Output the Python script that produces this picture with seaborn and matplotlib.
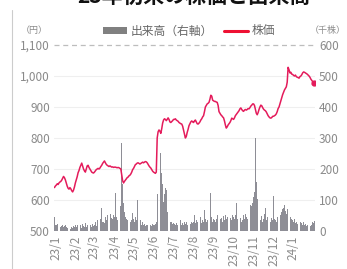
import pandas as pd
import numpy as np
import matplotlib
matplotlib.use("Agg")
import matplotlib.pyplot as plt
import seaborn as sns
from matplotlib.lines import Line2D
from matplotlib.patches import Patch

# daily close (yen), Dec 29 2022 .. Feb 2 2024, one row per month
price = [
    640, 645,
    648, 652, 650, 655, 658, 660, 664, 670, 676, 672, 665, 655, 645, 638, 635, 640, 636, 630, 626, 632, 642, 655,
    665, 675, 688, 695, 705, 712, 719, 710, 700, 694, 690, 700, 710, 712, 705, 700, 695, 690, 688, 687,
    690, 694, 698, 700, 702, 700, 703, 708, 712, 718, 722, 726, 720, 715, 712, 710, 708, 710, 708, 706, 707, 705, 706,
    706, 705, 704, 705, 704, 702, 700, 682, 662, 655, 660, 664, 668, 672, 674, 678, 680, 684, 690, 698,
    702, 708, 714, 716, 719, 720, 718, 716, 718, 720, 722, 720, 722, 724, 723, 720, 715, 710, 706, 703, 698, 693, 690,
    688, 686, 690, 800, 820, 826, 822, 815, 830, 848, 858, 862, 860, 856, 860, 865, 860, 852, 850, 853, 856, 860,
    860, 862, 858, 856, 854, 850, 848, 846, 845, 838, 825, 812, 800, 805, 818, 828, 840, 846, 852, 855, 852,
    850, 855, 858, 852, 846, 845, 848, 852, 858, 862, 868, 872, 885, 900, 905, 910, 912, 915, 925, 938, 935, 922, 920,
    918, 918, 916, 915, 905, 885, 880, 875, 872, 868, 865, 855, 842, 832, 836, 842, 846, 850, 856, 864, 862,
    860, 865, 872, 876, 880, 884, 888, 894, 897, 892, 888, 886, 890, 892, 890, 892, 895, 894, 898, 903, 906, 910,
    910, 905, 892, 880, 875, 882, 892, 900, 906, 904, 898, 893, 890, 888, 884, 878, 872, 868, 865, 864, 866, 870,
    870, 872, 874, 878, 885, 895, 900, 910, 920, 930, 940, 948, 955, 960, 965, 980, 1028, 1020, 1010, 1012, 1006,
    1005, 1002, 1000, 1003, 998, 996, 995, 993, 998, 1000, 1004, 1010, 1013, 1012, 1010, 1008, 1006, 1003, 1000, 996, 990, 986, 982,
    978, 977,
]

# daily volume (thousand shares)
volume = [
    45, 20,
    18, 22, 15, 20, 18, 14, 16, 20, 12, 15, 18, 14, 10, 12, 15, 10, 8, 12, 10, 15, 12, 18,
    14, 20, 12, 28, 15, 18, 10, 22, 16, 14, 25, 12, 18, 20, 15, 30, 18, 14, 22, 16,
    20, 28, 15, 35, 22, 18, 25, 40, 74, 28, 30, 25, 45, 35, 50, 40, 48, 30, 55, 42, 38, 50, 45,
    122, 45, 35, 60, 40, 30, 80, 284, 150, 90, 60, 45, 40, 35, 50, 30, 40, 28, 35, 58,
    40, 30, 45, 35, 100, 45, 30, 25, 35, 20, 28, 18, 22, 15, 20, 18, 15, 20, 14, 18, 16, 22, 20,
    18, 22, 30, 120, 222, 294, 280, 250, 187, 150, 94, 120, 139, 132, 61, 70, 45, 35, 28, 30, 22, 25,
    22, 18, 25, 20, 30, 18, 22, 35, 20, 25, 18, 30, 22, 28, 20, 35, 25, 18, 22, 30, 25,
    30, 52, 25, 35, 28, 40, 22, 30, 45, 25, 35, 30, 68, 40, 28, 35, 50, 30, 38, 122, 45, 30, 40,
    35, 28, 40, 50, 30, 45, 55, 38, 42, 30, 48, 35, 52, 40, 45, 30, 38, 28, 42, 35, 50,
    45, 38, 50, 90, 40, 35, 48, 30, 42, 28, 35, 50, 40, 55, 45, 38, 50, 60, 70, 84, 80, 90,
    110, 126, 300, 158, 103, 68, 50, 40, 35, 48, 30, 40, 55, 74, 35, 45, 30, 25, 38, 30, 42, 35,
    113, 40, 35, 28, 45, 30, 38, 25, 50, 60, 72, 74, 85, 65, 55, 70, 155, 90, 60, 45, 40,
    35, 28, 40, 25, 30, 22, 35, 28, 80, 30, 25, 20, 28, 18, 22, 15, 20, 25, 18, 22, 15, 20, 28,
    25, 32,
]

month_labels = ["23/1", "23/2", "23/3", "23/4", "23/5", "23/6", "23/7",
                "23/8", "23/9", "23/10", "23/11", "23/12", "24/1"]

title = "23年初来の株価と出来高"

n = min(len(price), len(volume))
dates = pd.bdate_range("2022-12-29", periods=n)
df = pd.DataFrame({"date": dates, "pos": np.arange(n),
                   "price": price[:n], "volume": volume[:n]})

# first trading day of each month -> tick position
firsts = df.groupby(df["date"].dt.to_period("M"))["pos"].min().values[1:1 + len(month_labels)]

sns.set_style("white")
plt.rcParams["font.family"] = ["Noto Sans CJK JP", "DejaVu Sans"]

fig = plt.figure(figsize=(3.47, 2.69), dpi=100)
ax = fig.add_axes([0.1556, 0.1413, 0.752, 0.6914])
ax2 = ax.twinx()

grey_txt = "#8a8a8a"
bar_col = "#8e8e96"
line_col = "#e41b5b"

ax2.bar(df["pos"], df["volume"], width=0.8, color=bar_col, linewidth=0)
ax2.set_ylim(0, 600)
ax2.set_yticks(range(0, 601, 100))

sns.lineplot(data=df, x="pos", y="price", ax=ax, color=line_col, linewidth=1.1)
ax.plot(df["pos"].iloc[-1], df["price"].iloc[-1], "o", color=line_col, markersize=3.5)
ax.set_ylim(500, 1100)
ax.set_yticks(range(500, 1101, 100))
ax.set_yticklabels([f"{v:,}" for v in range(500, 1101, 100)])
ax.set_xlim(-0.5, n - 0.5)
ax.set_xticks(firsts)
ax.set_xticklabels(month_labels, rotation=90)
ax.set_xlabel("")
ax.set_ylabel("")

ax.set_zorder(ax2.get_zorder() + 1)
ax.patch.set_visible(False)

for v in range(600, 1001, 100):
    ax2.axhline((v - 500), color="#efefef", linewidth=0.8, zorder=0)
ax.axhline(1100, color="#bdbdbd", linewidth=0.9, linestyle=(0, (4, 3)), clip_on=False)

for a in (ax, ax2):
    for s in a.spines.values():
        s.set_visible(False)
    a.tick_params(axis="both", length=0, labelsize=8.5, colors=grey_txt, pad=3)

fig.text(0.56, 1 - 4 / 269, title, ha="center", va="baseline",
         fontsize=15, fontweight="bold", color="#111111")
fig.text(0.10, 0.885, "（円）", ha="center", va="center", fontsize=6.5, color=grey_txt)
fig.text(0.945, 0.885, "（千株）", ha="center", va="center", fontsize=6.5, color=grey_txt)

handles = [Patch(facecolor="#808080", edgecolor="none"),
           Line2D([0], [0], color="#ee1133", linewidth=2.2)]
fig.legend(handles, ["出来高（右軸）", "株価"], loc="center", bbox_to_anchor=(0.545, 0.885),
           ncol=2, frameon=False, fontsize=8.5, handlelength=2.0, handleheight=0.5,
           columnspacing=1.0, handletextpad=0.3, labelcolor="#666666")

fig.add_artist(Line2D([12 / 347, 12 / 347], [0, 1 - 10 / 269], color="#cccccc", linewidth=0.8))

fig.savefig("out.png", dpi=100)
